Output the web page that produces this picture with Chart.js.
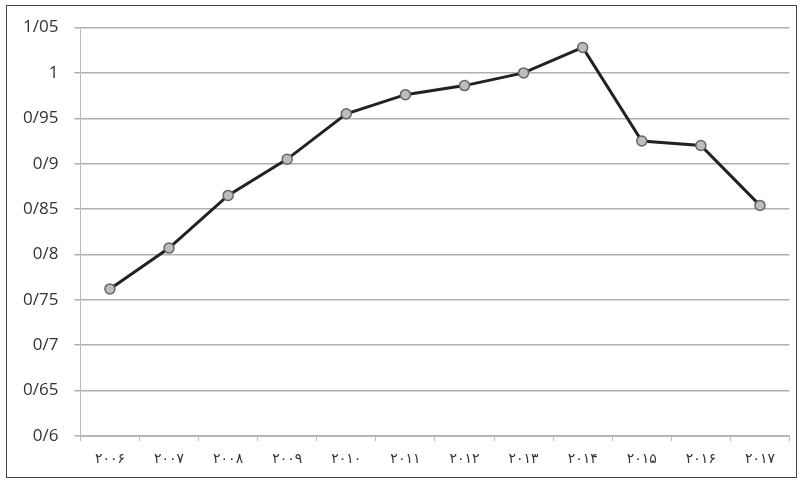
<!DOCTYPE html>
<html>
<head>
<meta charset="utf-8">
<script src="https://cdn.jsdelivr.net/npm/chart.js@4"></script>
<style>
  body { margin: 0; background: #fff; }
  #wrap { position: absolute; left: 6px; top: 5px; width: 789px; height: 471px; border: 1px solid #444; overflow: hidden; }
  #inner { position: absolute; left: 0; top: -3px; width: 789px; height: 474px; }
</style>
</head>
<body>
<div id="wrap"><div id="inner"><canvas id="chart-line"></canvas></div></div>
<script>
// years, written with Persian digits as in the source
var years = ['۲۰۰۶', '۲۰۰۷', '۲۰۰۸', '۲۰۰۹', '۲۰۱۰', '۲۰۱۱', '۲۰۱۲', '۲۰۱۳', '۲۰۱۴', '۲۰۱۵', '۲۰۱۶', '۲۰۱۷'];
var values = [0.762, 0.807, 0.865, 0.905, 0.955, 0.976, 0.986, 1.000, 1.028, 0.925, 0.920, 0.854];
var yTicks = [0.6, 0.65, 0.7, 0.75, 0.8, 0.85, 0.9, 0.95, 1, 1.05];
var yLabels = ['0/6', '0/65', '0/7', '0/75', '0/8', '0/85', '0/9', '0/95', '1', '1/05'];

var ctx = document.getElementById('chart-line');
var myLineChart = new Chart(ctx, {
    type: 'line',
    data: {
        labels: years,
        datasets: [{
            data: values,
            borderColor: '#222',
            borderWidth: 3,
            backgroundColor: '#bdbdbd',
            pointBorderColor: '#666',
            pointBorderWidth: 1.5,
            pointRadius: 5,
            tension: 0,
            fill: false
        }]
    },
    options: {
        responsive: true,
        maintainAspectRatio: false,
        animation: false,
        layout: { padding: { top: 6, right: 6, left: 0, bottom: 0 } },
        plugins: { legend: { display: false }, tooltip: { enabled: false } },
        scales: {
            x: {
                offset: true,
                grid: { offset: true, drawOnChartArea: false, drawTicks: true, tickLength: 5, color: '#bbb' },
                border: { color: '#bbb' },
                ticks: { color: '#333', font: { family: 'DejaVu Sans', size: 14, lineHeight: 1 }, maxRotation: 0, padding: 11 }
            },
            y: {
                min: 0.6,
                max: 1.05,
                afterBuildTicks: function(axis) {
                    axis.ticks = yTicks.map(function(v) { return { value: v }; });
                },
                grid: { color: '#b0b0b0', lineWidth: 1.5, tickLength: 6 },
                border: { color: '#bbb' },
                ticks: {
                    color: '#333',
                    font: { family: 'Open Sans', size: 17, lineHeight: 1 },
                    padding: 16,
                    callback: function(value) {
                        var i = yTicks.findIndex(function(t) { return Math.abs(t - value) < 1e-6; });
                        return i >= 0 ? yLabels[i] : '';
                    }
                }
            }
        }
    }
});
</script>
</body>
</html>
